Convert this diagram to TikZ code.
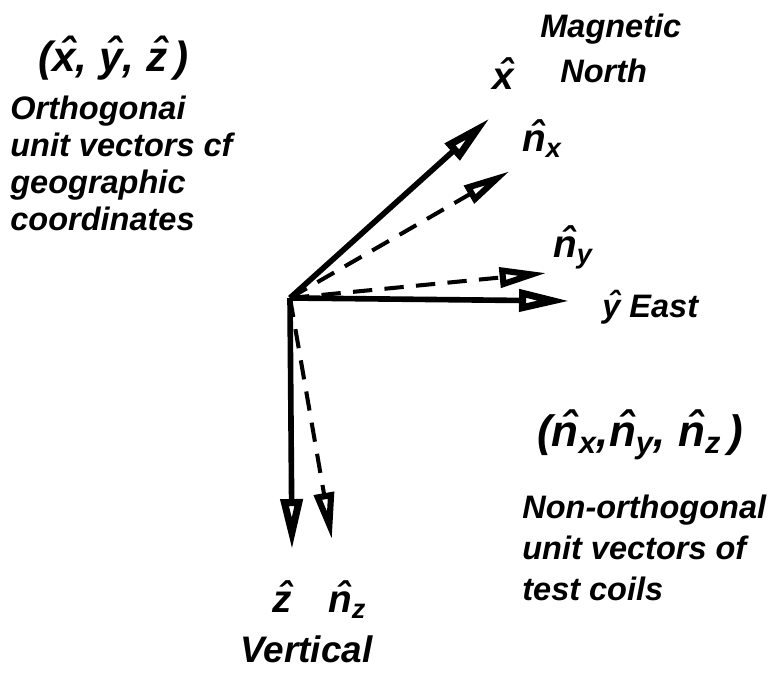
\documentclass[tikz,border=0pt]{standalone}
\usepackage{fontspec}
\setmainfont{Liberation Sans}
\usepackage{tikz}
\usetikzlibrary{arrows.meta}

% hatted letters, hat raised above the letter
\newcommand{\uv}[1]{\ooalign{#1\cr\hidewidth\kern0.14em\raisebox{0.1em}{\char"02C6}\hidewidth\cr}}
\newcommand{\nv}[1]{\uv{n}\textsubscript{#1}}

\begin{document}
\begin{tikzpicture}[
  lbl/.style={font=\fontsize{18.5}{21}\selectfont\bfseries\itshape, inner sep=0pt, align=left},
  vlbl/.style={font=\fontsize{22}{24}\selectfont\bfseries\itshape, inner sep=0pt},
  axisvec/.style={line width=3.2pt, -{Triangle[open, length=29pt, width=12pt, line width=4pt]}},
  coilvec/.style={line width=2.3pt, dash pattern=on 11pt off 7pt, -{Triangle[open, length=27pt, width=11pt, line width=3.5pt]}}
]
\useasboundingbox (0,0) rectangle (15.62,13.46);

% Origin and vector tips
\coordinate (origin) at (5.80,7.50);
\coordinate (xtip) at (9.80,11.10);
\coordinate (ytip) at (11.40,7.44);
\coordinate (ztip) at (5.84,2.46);
\coordinate (nxtip) at (10.20,10.04);
\coordinate (nytip) at (10.94,8.00);
\coordinate (nztip) at (6.64,2.66);

% Geographic axes
\draw[axisvec] (origin) -- (xtip);
\draw[axisvec] (origin) -- (ytip);
\draw[axisvec] (origin) -- (ztip);

% Test coil axes
\draw[coilvec] (origin) -- (nxtip);
\draw[coilvec] (origin) -- (nytip);
\draw[coilvec] (origin) -- (nztip);

% Vector labels
\node[vlbl, anchor=base] (xlbl) at (10.06,11.66) {\uv{x}};
\node[vlbl, anchor=base west] (nxlbl) at (10.44,10.42) {\nv{x}};
\node[vlbl, anchor=base west] (nylbl) at (11.06,8.30) {\nv{y}};
\node[lbl, anchor=base west] (eastlbl) at (12.04,7.10) {\uv{y} East};
\node[vlbl, anchor=base west] (zlbl) at (5.44,1.20) {\uv{z}};
\node[vlbl, anchor=base west] (nzlbl) at (6.56,1.20) {\nv{z}};
\node[lbl, anchor=base west] (magn) at (10.80,12.70) {Magnetic};
\node[lbl, anchor=base west] (north) at (11.20,11.80) {North};
\node[lbl, font=\fontsize{21}{24}\selectfont\bfseries\itshape, anchor=base west] (vert) at (4.80,0.20) {Vertical};

% Legends
\node[vlbl, font=\fontsize{24}{27}\selectfont\bfseries\itshape, anchor=base west] (geotuple) at (0.76,12.02) {(\uv{x}, \uv{y}, \uv{z}\,)};
\node[lbl, anchor=north west] (geotext) at (0.20,11.54)
  {Orthogonai\\unit vectors cf\\geographic\\coordinates};
\node[vlbl, font=\fontsize{25}{27}\selectfont\bfseries\itshape, anchor=base west] (coiltuple) at (10.74,4.52) {(\nv{x},\nv{y}, \nv{z}\,)};
\node[lbl, font=\fontsize{18.5}{23.3}\selectfont\bfseries\itshape, anchor=north west] (coiltext) at (10.44,3.56)
  {Non-orthogonal\\unit vectors of\\test coils};

\end{tikzpicture}
\end{document}
